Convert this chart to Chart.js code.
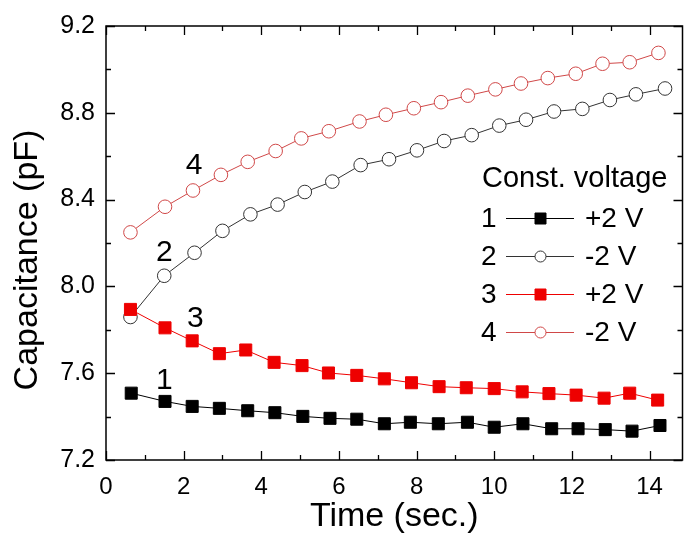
<!DOCTYPE html>
<html>
<head>
<meta charset="utf-8">
<script src="https://cdn.jsdelivr.net/npm/chart.js"></script>
<style>
  body { margin: 0; background: #fff; }
  #wrap { width: 692px; height: 542px; }
</style>
</head>
<body>
<div id="wrap"><canvas id="cap"></canvas></div>
<script>
//------------------------------------------------------------------------------
// capacitance vs time under constant voltage
//------------------------------------------------------------------------------
var time1 = [0.65, 1.52, 2.22, 2.92, 3.65, 4.35, 5.07, 5.77, 6.46, 7.17, 7.84, 8.56, 9.31, 10.0, 10.74, 11.48, 12.16, 12.86, 13.55, 14.27];
var cap1  = [7.508, 7.470, 7.447, 7.438, 7.427, 7.418, 7.401, 7.392, 7.388, 7.367, 7.374, 7.367, 7.374, 7.351, 7.367, 7.344, 7.344, 7.340, 7.333, 7.359];

var time2 = [0.63, 1.50, 2.28, 3.00, 3.72, 4.42, 5.12, 5.83, 6.56, 7.29, 8.01, 8.71, 9.42, 10.13, 10.82, 11.54, 12.27, 12.98, 13.65, 14.40];
var cap2  = [7.859, 8.049, 8.155, 8.256, 8.332, 8.377, 8.435, 8.483, 8.559, 8.586, 8.627, 8.670, 8.697, 8.741, 8.768, 8.806, 8.818, 8.859, 8.885, 8.912];

var time3 = [0.63, 1.52, 2.22, 2.92, 3.60, 4.33, 5.05, 5.73, 6.46, 7.17, 7.87, 8.58, 9.28, 10.0, 10.72, 11.41, 12.11, 12.83, 13.49, 14.21];
var cap3  = [7.894, 7.809, 7.749, 7.690, 7.707, 7.650, 7.635, 7.601, 7.590, 7.574, 7.556, 7.538, 7.533, 7.529, 7.514, 7.506, 7.499, 7.485, 7.508, 7.476];

var time4 = [0.63, 1.52, 2.24, 2.96, 3.65, 4.37, 5.03, 5.74, 6.53, 7.21, 7.93, 8.63, 9.32, 10.03, 10.69, 11.38, 12.10, 12.79, 13.49, 14.23];
var cap4  = [8.249, 8.367, 8.442, 8.514, 8.574, 8.624, 8.682, 8.715, 8.760, 8.791, 8.821, 8.849, 8.879, 8.908, 8.935, 8.960, 8.980, 9.026, 9.033, 9.076];

var seriesNum  = ["1", "2", "3", "4"];
var seriesName = ["+2 V", "-2 V", "+2 V", "-2 V"];
var legendTitle = "Const. voltage";

// curve numbers written next to the curves (data coords)
var noteX = [1.50, 1.50, 2.30, 2.27];
var noteY = [7.564, 8.155, 7.850, 8.556];

var xTicks = [0, 2, 4, 6, 8, 10, 12, 14];
var yTicks = [7.2, 7.6, 8.0, 8.4, 8.8, 9.2];

var FONT = "'Liberation Sans', Arial, sans-serif";

//------------------------------------------------------------------------------
function pts(xs, ys) {
  return xs.map(function(x, i) { return {x: x, y: ys[i]}; });
}

var blk = "#000000";
var gry = "#333333";
var red = "#ee0000";
var pnk = "#d04848";

var sets = [
  {data: pts(time1, cap1), borderColor: blk, backgroundColor: blk, pointStyle: 'rect',
   pointBorderColor: blk, pointBackgroundColor: blk, pointRadius: 8.5, order: 1},
  {data: pts(time2, cap2), borderColor: gry, backgroundColor: "#fff", pointStyle: 'circle',
   pointBorderColor: gry, pointBackgroundColor: "#fff", pointRadius: 6.8, order: 3},
  {data: pts(time3, cap3), borderColor: red, backgroundColor: red, pointStyle: 'rect',
   pointBorderColor: red, pointBackgroundColor: red, pointRadius: 8.5, order: 2},
  {data: pts(time4, cap4), borderColor: pnk, backgroundColor: "#fff", pointStyle: 'circle',
   pointBorderColor: pnk, pointBackgroundColor: "#fff", pointRadius: 6.8, order: 4}
];
sets.forEach(function(s, i) {
  s.label = seriesNum[i] + " " + seriesName[i];
  s.showLine = true;
  s.borderWidth = 1;
  s.pointBorderWidth = 1;
  s.pointHoverRadius = s.pointRadius;
});

//------------------------------------------------------------------------------
// frame with inward ticks, legend, curve numbers, y title
var decor = {
  id: 'decor',
  afterDraw: function(chart) {
    var c = chart.ctx, a = chart.chartArea;
    var xs = chart.scales.x, ys = chart.scales.y;
    c.save();
    c.strokeStyle = "#000";
    c.lineWidth = 1.5;
    c.strokeRect(a.left, a.top, a.right - a.left, a.bottom - a.top);

    c.lineWidth = 1.3;
    c.beginPath();
    xTicks.forEach(function(v, i) {
      var px = Math.round(xs.getPixelForValue(v)) + 0.5;
      c.moveTo(px, a.bottom); c.lineTo(px, a.bottom - 9);
      c.moveTo(px, a.top);    c.lineTo(px, a.top + 9);
      if (i < xTicks.length - 1) {
        var m = Math.round(xs.getPixelForValue(v + 1)) + 0.5;
        c.moveTo(m, a.bottom); c.lineTo(m, a.bottom - 5);
        c.moveTo(m, a.top);    c.lineTo(m, a.top + 5);
      }
    });
    yTicks.forEach(function(v, i) {
      var py = Math.round(ys.getPixelForValue(v)) + 0.5;
      c.moveTo(a.left, py);  c.lineTo(a.left + 9, py);
      c.moveTo(a.right, py); c.lineTo(a.right - 9, py);
      if (i < yTicks.length - 1) {
        var m = Math.round(ys.getPixelForValue(v + 0.2)) + 0.5;
        c.moveTo(a.left, m);  c.lineTo(a.left + 5, m);
        c.moveTo(a.right, m); c.lineTo(a.right - 5, m);
      }
    });
    c.stroke();

    // curve numbers
    c.fillStyle = "#000";
    c.font = "30px " + FONT;
    c.textAlign = "center";
    c.textBaseline = "middle";
    seriesNum.forEach(function(n, i) {
      c.fillText(n, xs.getPixelForValue(noteX[i]), ys.getPixelForValue(noteY[i]));
    });

    // y axis title
    c.save();
    c.translate(28, 260);
    c.rotate(-Math.PI / 2);
    c.font = "34px " + FONT;
    c.fillText("Capacitance (pF)", 0, 0);
    c.restore();

    // legend
    c.textAlign = "left";
    c.textBaseline = "alphabetic";
    c.font = "29px " + FONT;
    c.fillText(legendTitle, 482, 187);
    c.font = "28px " + FONT;
    c.textBaseline = "middle";
    chart.data.datasets.forEach(function(ds, i) {
      var cy = 218 + i * 38;
      c.fillStyle = "#000";
      c.fillText(seriesNum[i], 481, cy + 1);
      c.fillText(seriesName[i], 585, cy + 1);
      c.strokeStyle = ds.borderColor;
      c.lineWidth = 1;
      c.beginPath();
      c.moveTo(506, cy + 0.5); c.lineTo(574, cy + 0.5);
      c.stroke();
      c.fillStyle = ds.pointBackgroundColor;
      c.strokeStyle = ds.pointBorderColor;
      c.beginPath();
      if (ds.pointStyle === 'rect') {
        c.rect(535, cy - 5, 11, 11);
      } else {
        c.arc(540.5, cy + 0.5, 5.5, 0, 2 * Math.PI);
      }
      c.fill();
      c.stroke();
    });
    c.restore();
  }
};

//------------------------------------------------------------------------------
var ctx = document.getElementById("cap");
var chart = new Chart(ctx, {
  type: 'scatter',
  data: {datasets: sets},
  options: {
    animation: false,
    responsive: true,
    maintainAspectRatio: false,
    devicePixelRatio: 1,
    layout: {padding: {top: 20, right: 1, left: 0, bottom: 0}},
    plugins: {legend: {display: false}, tooltip: {enabled: false}},
    scales: {
      x: {
        type: 'linear', min: 0, max: 14.85,
        grid: {display: false, drawTicks: false},
        border: {display: false},
        afterBuildTicks: function(s) { s.ticks = xTicks.map(function(v) { return {value: v}; }); },
        afterFit: function(s) { s.height = 82; },
        ticks: {color: "#000", padding: 13, maxRotation: 0, font: {family: FONT, size: 24}},
        title: {display: true, text: "Time (sec.)", color: "#000", padding: {top: 0, bottom: 5},
                font: {family: FONT, size: 34}}
      },
      y: {
        type: 'linear', min: 7.2, max: 9.2,
        grid: {display: false, drawTicks: false},
        border: {display: false},
        afterBuildTicks: function(s) { s.ticks = yTicks.map(function(v) { return {value: v}; }); },
        afterFit: function(s) { s.width = 106; },
        ticks: {color: "#000", padding: 11, font: {family: FONT, size: 25},
                callback: function(v) { return Number(v).toFixed(1); }}
      }
    }
  },
  plugins: [decor]
});
</script>
</body>
</html>
